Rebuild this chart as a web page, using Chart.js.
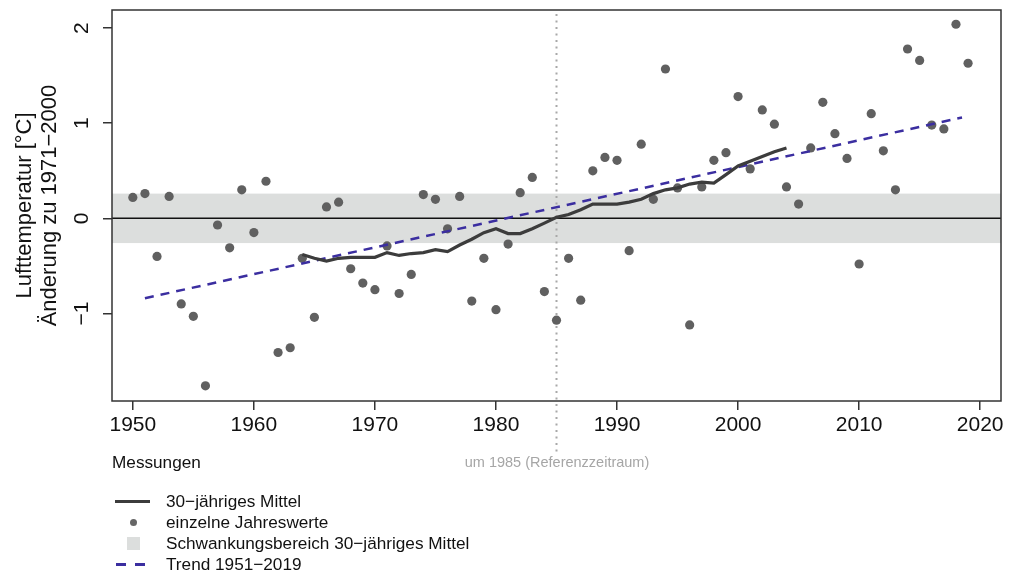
<!DOCTYPE html>
<html lang="de">
<head>
<meta charset="utf-8">
<title>Lufttemperatur – Änderung zu 1971–2000</title>
<script src="https://cdn.jsdelivr.net/npm/chart.js@4/dist/chart.umd.min.js"></script>
<style>
  html, body { margin: 0; padding: 0; background: #fff; }
  body { font-family: 'Liberation Sans', Arial, sans-serif; color: #111; }
  #wrap { position: relative; width: 1009px; height: 579px; overflow: hidden; }
  #chart { position: absolute; left: 0; top: 0; }
  .note { position: absolute; white-space: nowrap; line-height: 1; }
  #messungen { left: 112px; top: 454px; font-size: 17.2px; }
  #refnote { left: 557px; top: 455px; font-size: 14.5px; color: #a6a6a6; transform: translateX(-50%); }
  #legend { position: absolute; left: 0; top: 491px; font-size: 17.2px; }
  .row { position: relative; height: 21.1px; line-height: 21.1px; padding-left: 166px; white-space: nowrap; }
  .sym { position: absolute; top: 50%; }
  .s-line { left: 115px; width: 35px; height: 3px; margin-top: -1.5px; background: #3c3c3c; }
  .s-dot { left: 129.5px; width: 7px; height: 7px; margin-top: -3.5px; border-radius: 50%; background: #666; }
  .s-band { left: 127px; width: 13px; height: 13px; margin-top: -6.5px; background: #dcdedd; }
  .s-dash { left: 116px; width: 30px; height: 3px; margin-top: -1.5px;
            background: repeating-linear-gradient(90deg, #3b2ea0 0 10px, transparent 10px 19px); }
</style>
</head>
<body>
<div id="wrap">
  <canvas id="chart" width="1009" height="579"></canvas>
  <div class="note" id="messungen">Messungen</div>
  <div class="note" id="refnote">um 1985 (Referenzzeitraum)</div>
  <div id="legend">
    <div class="row"><span class="sym s-line"></span>30−jähriges Mittel</div>
    <div class="row"><span class="sym s-dot"></span>einzelne Jahreswerte</div>
    <div class="row"><span class="sym s-band"></span>Schwankungsbereich 30−jähriges Mittel</div>
    <div class="row"><span class="sym s-dash"></span>Trend 1951−2019</div>
  </div>
</div>
<script>
// Einzelne Jahreswerte (Abweichung zu 1971-2000, °C)
const years = [
  1950, 1951, 1952, 1953, 1954, 1955, 1956, 1957, 1958, 1959,
  1960, 1961, 1962, 1963, 1964, 1965, 1966, 1967, 1968, 1969,
  1970, 1971, 1972, 1973, 1974, 1975, 1976, 1977, 1978, 1979,
  1980, 1981, 1982, 1983, 1984, 1985, 1986, 1987, 1988, 1989,
  1990, 1991, 1992, 1993, 1994, 1995, 1996, 1997, 1998, 1999,
  2000, 2001, 2002, 2003, 2004, 2005, 2006, 2007, 2008, 2009,
  2010, 2011, 2012, 2013, 2014, 2015, 2016, 2017, 2018, 2019
];
const annualValues = [
  0.22, 0.26, -0.40, 0.23, -0.90, -1.03, -1.76, -0.07, -0.31, 0.30,
  -0.15, 0.39, -1.41, -1.36, -0.42, -1.04, 0.12, 0.17, -0.53, -0.68,
  -0.75, -0.29, -0.79, -0.59, 0.25, 0.20, -0.11, 0.23, -0.87, -0.42,
  -0.96, -0.27, 0.27, 0.43, -0.77, -1.07, -0.42, -0.86, 0.50, 0.64,
  0.61, -0.34, 0.78, 0.20, 1.57, 0.32, -1.12, 0.33, 0.61, 0.69,
  1.28, 0.52, 1.14, 0.99, 0.33, 0.15, 0.74, 1.22, 0.89, 0.63,
  -0.48, 1.10, 0.71, 0.30, 1.78, 1.66, 0.98, 0.94, 2.04, 1.63
];

// 30-jähriges Mittel (zentriert)
const meanYears = [
  1964, 1965, 1966, 1967, 1968, 1969, 1970, 1971, 1972, 1973,
  1974, 1975, 1976, 1977, 1978, 1979, 1980, 1981, 1982, 1983,
  1984, 1985, 1986, 1987, 1988, 1989, 1990, 1991, 1992, 1993,
  1994, 1995, 1996, 1997, 1998, 1999, 2000, 2001, 2002, 2003, 2004
];
const meanValues = [
  -0.38, -0.42, -0.45, -0.42, -0.41, -0.41, -0.41, -0.36, -0.39, -0.37,
  -0.36, -0.33, -0.35, -0.28, -0.22, -0.15, -0.11, -0.16, -0.16, -0.11,
  -0.05, 0.01, 0.04, 0.09, 0.15, 0.15, 0.15, 0.17, 0.20, 0.26,
  0.30, 0.32, 0.36, 0.38, 0.37, 0.46, 0.55, 0.60, 0.65, 0.70, 0.74
];

// Trend 1951-2019
const trendYears = [1951, 2018.5];
const trendValues = [-0.84, 1.06];

// Schwankungsbereich, Referenzjahr, Achsen
const bandRange = [-0.26, 0.26];
const refYear = 1985;
const xTicks = [1950, 1960, 1970, 1980, 1990, 2000, 2010, 2020];
const yTicks = [-1, 0, 1, 2];
const xRange = [1948.28, 2021.72];
const yRange = [-1.92, 2.19];
const yTitle = ['Lufttemperatur [°C]', 'Änderung zu 1971−2000'];

const toPoints = (xs, ys) => xs.map((x, i) => ({ x: x, y: ys[i] }));
const fmt = v => (v < 0 ? '−' + Math.abs(v) : String(v));

Chart.defaults.font.family = "'Liberation Sans', Arial, sans-serif";
Chart.defaults.color = '#111';

// Band, Nulllinie, Referenzlinie und Rahmen
const backdrop = {
  id: 'backdrop',
  beforeDatasetsDraw(chart) {
    const { ctx, chartArea: a, scales: { x, y } } = chart;
    ctx.save();
    const yTop = y.getPixelForValue(bandRange[1]);
    const yBot = y.getPixelForValue(bandRange[0]);
    ctx.fillStyle = '#dcdedd';
    ctx.fillRect(a.left, yTop, a.right - a.left, yBot - yTop);

    const y0 = y.getPixelForValue(0);
    ctx.strokeStyle = '#111';
    ctx.lineWidth = 1.5;
    ctx.beginPath();
    ctx.moveTo(a.left, y0);
    ctx.lineTo(a.right, y0);
    ctx.stroke();

    const xr = x.getPixelForValue(refYear);
    ctx.strokeStyle = '#a8a8a8';
    ctx.lineWidth = 2;
    ctx.setLineDash([2, 4.5]);
    ctx.beginPath();
    ctx.moveTo(xr, a.top + 4);
    ctx.lineTo(xr, 453);
    ctx.stroke();
    ctx.restore();
  },
  afterDatasetsDraw(chart) {
    const { ctx, chartArea: a } = chart;
    ctx.save();
    ctx.strokeStyle = '#333';
    ctx.lineWidth = 1.5;
    ctx.strokeRect(a.left, a.top, a.right - a.left, a.bottom - a.top);
    ctx.restore();
  }
};

new Chart(document.getElementById('chart'), {
  type: 'scatter',
  data: {
    datasets: [
      {
        label: '30−jähriges Mittel',
        data: toPoints(meanYears, meanValues),
        showLine: true,
        borderColor: '#3c3c3c',
        borderWidth: 3.2,
        pointRadius: 0,
        order: 1
      },
      {
        label: 'Trend 1951−2019',
        data: toPoints(trendYears, trendValues),
        showLine: true,
        borderColor: '#3b2ea0',
        borderWidth: 2.5,
        borderDash: [9, 7],
        pointRadius: 0,
        order: 2
      },
      {
        label: 'einzelne Jahreswerte',
        data: toPoints(years, annualValues),
        showLine: false,
        pointRadius: 4.6,
        pointBackgroundColor: '#606060',
        pointBorderWidth: 0,
        order: 3
      }
    ]
  },
  options: {
    responsive: false,
    animation: false,
    layout: { padding: { top: 10, right: 8, bottom: 138, left: 0 } },
    plugins: { legend: { display: false }, tooltip: { enabled: false } },
    scales: {
      x: {
        type: 'linear',
        min: xRange[0],
        max: xRange[1],
        afterFit(s) { s.height = 40; s.paddingLeft = 0; s.paddingRight = 0; },
        afterBuildTicks(s) { s.ticks = xTicks.map(v => ({ value: v })); },
        ticks: {
          maxRotation: 0,
          padding: 3,
          font: { size: 21 },
          color: '#111',
          callback: v => String(v)
        },
        grid: { drawOnChartArea: false, tickLength: 9, color: '#333', lineWidth: 1.5 },
        border: { display: false }
      },
      y: {
        min: yRange[0],
        max: yRange[1],
        afterFit(s) { s.width = 112; s.paddingTop = 0; s.paddingBottom = 0; },
        afterBuildTicks(s) { s.ticks = yTicks.map(v => ({ value: v })); },
        ticks: {
          minRotation: 90,
          maxRotation: 90,
          crossAlign: 'center',
          padding: 9,
          font: { size: 21 },
          color: '#111',
          callback: v => fmt(v)
        },
        grid: { drawOnChartArea: false, tickLength: 9, color: '#333', lineWidth: 1.5 },
        border: { display: false },
        title: {
          display: true,
          text: yTitle,
          font: { size: 22, lineHeight: 1.14 },
          padding: { top: 12, bottom: 0 },
          color: '#111'
        }
      }
    }
  },
  plugins: [backdrop]
});
</script>
</body>
</html>
